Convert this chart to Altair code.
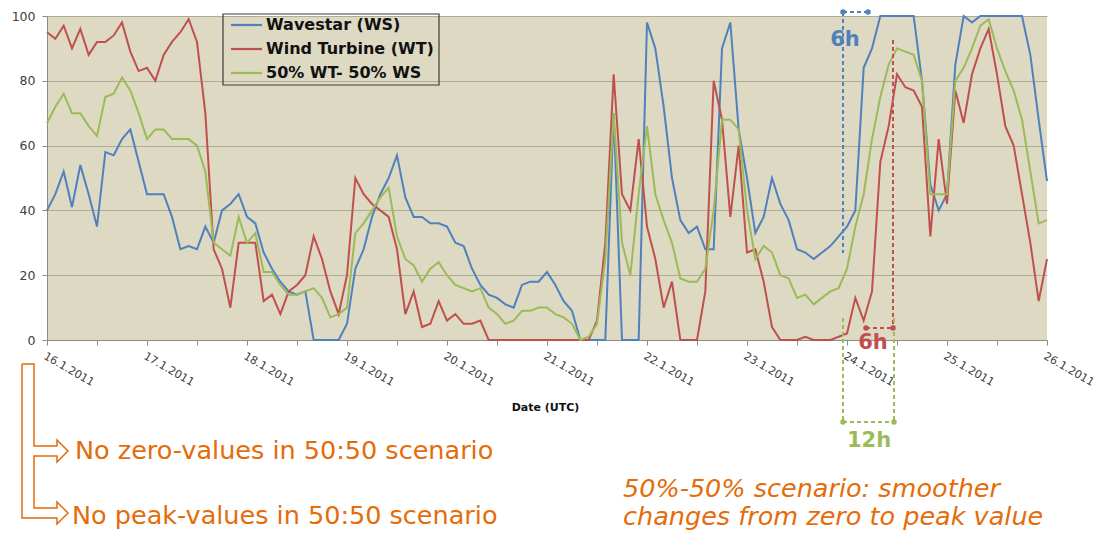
import altair as alt
import pandas as pd

# ---------------- data (2-hourly readings, 16.1.2011 00:00 .. 26.1.2011 00:00) ----------------
hours = list(range(0, 241, 2))

wavestar = [40, 45, 52, 41, 54, 45, 35, 58, 57, 62, 65, 55, 45, 45, 45, 38, 28, 29, 28, 35,
            30, 40, 42, 45, 38, 36, 27, 22, 18, 15, 14, 15, 0, 0, 0, 0, 5, 22, 28, 38,
            45, 50, 57, 44, 38, 38, 36, 36, 35, 30, 29, 22, 17, 14, 13, 11, 10, 17, 18, 18,
            21, 17, 12, 9, 0, 0, 0, 0, 70, 0, 0, 0, 98, 90, 72, 50, 37, 33, 35, 28,
            28, 90, 98, 65, 50, 33, 38, 50, 42, 37, 28, 27, 25, 27, 29, 32, 35, 40, 84, 90,
            100, 100, 100, 100, 100, 80, 48, 40, 45, 85, 100, 98, 100, 100, 100, 100, 100, 100, 88, 68,
            49]

wind = [95, 93, 97, 90, 96, 88, 92, 92, 94, 98, 89, 83, 84, 80, 88, 92, 95, 99, 92, 70,
        28, 22, 10, 30, 30, 30, 12, 14, 8, 15, 17, 20, 32, 25, 15, 8, 20, 50, 45, 42,
        40, 38, 28, 8, 15, 4, 5, 12, 6, 8, 5, 5, 6, 0, 0, 0, 0, 0, 0, 0,
        0, 0, 0, 0, 0, 0, 6, 30, 82, 45, 40, 62, 35, 25, 10, 18, 0, 0, 0, 15,
        80, 68, 38, 60, 27, 28, 18, 4, 0, 0, 0, 1, 0, 0, 0, 1, 2, 13, 6, 15,
        55, 66, 82, 78, 77, 72, 32, 62, 42, 77, 67, 82, 90, 96, 82, 66, 60, 45, 30, 12,
        25]

mix = [67, 72, 76, 70, 70, 66, 63, 75, 76, 81, 77, 70, 62, 65, 65, 62, 62, 62, 60, 52,
       30, 28, 26, 38, 30, 33, 21, 21, 17, 14, 14, 15, 16, 13, 7, 8, 10, 33, 36, 40,
       44, 47, 32, 25, 23, 18, 22, 24, 20, 17, 16, 15, 16, 10, 8, 5, 6, 9, 9, 10,
       10, 8, 7, 5, 0, 1, 5, 25, 70, 30, 20, 45, 66, 45, 37, 30, 19, 18, 18, 22,
       40, 68, 68, 65, 40, 25, 29, 27, 20, 19, 13, 14, 11, 13, 15, 16, 22, 35, 45, 62,
       75, 85, 90, 89, 88, 80, 45, 45, 45, 80, 84, 90, 97, 99, 90, 83, 77, 68, 52, 36,
       37]

day_labels = ["16.1.2011", "17.1.2011", "18.1.2011", "19.1.2011", "20.1.2011", "21.1.2011",
              "22.1.2011", "23.1.2011", "24.1.2011", "25.1.2011", "26.1.2011"]
series_names = ["Wavestar (WS)", "Wind Turbine (WT)", "50% WT- 50% WS"]
series_colors = ["#4F81BD", "#C0504D", "#9BBB59"]

rows = []
for name, vals in zip(series_names, [wavestar, wind, mix]):
    for h, v in zip(hours, vals):
        rows.append({"hour": h, "value": v, "series": name})
df = pd.DataFrame(rows)

# ---------------- layout helpers (annotation placement, in data units) ----------------
PLOT_W, PLOT_H = 1000, 324
X0, Y0 = 47, 16  # plot origin on the page


def hx(px):
    return (px - X0) * 240 / PLOT_W


def vy(py):
    return (Y0 + PLOT_H - py) * 100 / PLOT_H


x_scale = alt.Scale(domain=[0, 240], nice=False, zero=False)
y_scale = alt.Scale(domain=[0, 100], nice=False, zero=True)

label_expr = "datum.value % 24 == 0 ? " + str(day_labels) + "[datum.value / 24] : ''"

FONT = "DejaVu Sans"

lines = alt.Chart(df).mark_line(strokeWidth=2).encode(
    x=alt.X("hour:Q", scale=x_scale,
            axis=alt.Axis(values=list(range(0, 241, 6)), labelExpr=label_expr,
                          labelAngle=30, labelAlign="left", labelBaseline="top",
                          labelFont=FONT, labelFontSize=11, labelColor="#404040",
                          labelPadding=5, labelOverlap=False, labelFlush=False,
                          tickSize=5, tickColor="#8c8c8c", domainColor="#8c8c8c",
                          grid=False, title="Date (UTC)", titleFont=FONT,
                          titleFontSize=11, titleFontWeight="bold", titleColor="#111",
                          titleX=498, titleY=67, titleBaseline="middle")),
    y=alt.Y("value:Q", scale=y_scale,
            axis=alt.Axis(values=list(range(0, 101, 10)), grid=True, gridColor="#aeab97",
                          gridWidth=1, labelFont=FONT, labelFontSize=12.5,
                          labelColor="#404040", labelPadding=7, tickSize=5,
                          tickColor="#8c8c8c", domainColor="#8c8c8c", title=None)),
    color=alt.Color("series:N", scale=alt.Scale(domain=series_names, range=series_colors),
                    legend=None),
)

# ---------------- legend box (drawn from the series lists) ----------------
leg_y = [25, 49, 73]
legend_df = pd.DataFrame({
    "series": series_names,
    "x": [hx(231)] * 3, "x2": [hx(262)] * 3,
    "tx": [hx(266)] * 3,
    "y": [vy(p) for p in leg_y],
})
legend_box = alt.Chart(pd.DataFrame([{"x": hx(223), "x2": hx(439), "y": vy(14), "y2": vy(85)}])
                       ).mark_rect(fillOpacity=0, stroke="#3a3a3a", strokeWidth=1.2).encode(
    x=alt.X("x:Q", scale=x_scale), x2="x2:Q", y=alt.Y("y:Q", scale=y_scale), y2="y2:Q")
legend_sym = alt.Chart(legend_df).mark_rule(strokeWidth=2.2).encode(
    x=alt.X("x:Q", scale=x_scale), x2="x2:Q", y=alt.Y("y:Q", scale=y_scale),
    color=alt.Color("series:N", scale=alt.Scale(domain=series_names, range=series_colors),
                    legend=None))
legend_txt = alt.Chart(legend_df).mark_text(font=FONT, fontSize=16, fontWeight="bold",
                                            align="left", baseline="middle", color="#111").encode(
    x=alt.X("tx:Q", scale=x_scale), y=alt.Y("y:Q", scale=y_scale), text="series:N")

# ---------------- annotation: dashed interval markers ----------------
ann_rules = pd.DataFrame([
    # blue 6h
    {"x": hx(843), "x2": hx(843), "y": vy(12), "y2": vy(253), "c": "#4F81BD"},
    {"x": hx(843), "x2": hx(868), "y": vy(12), "y2": vy(12), "c": "#4F81BD"},
    # red 6h
    {"x": hx(893), "x2": hx(893), "y": vy(40), "y2": vy(328), "c": "#C0504D"},
    {"x": hx(866), "x2": hx(893), "y": vy(328), "y2": vy(328), "c": "#C0504D"},
    # green 12h
    {"x": hx(843), "x2": hx(843), "y": vy(318), "y2": vy(422), "c": "#9BBB59"},
    {"x": hx(894), "x2": hx(894), "y": vy(318), "y2": vy(422), "c": "#9BBB59"},
    {"x": hx(843), "x2": hx(894), "y": vy(422), "y2": vy(422), "c": "#9BBB59"},
])
rules = alt.Chart(ann_rules).mark_rule(strokeDash=[4, 3], strokeWidth=2).encode(
    x=alt.X("x:Q", scale=x_scale), x2="x2:Q",
    y=alt.Y("y:Q", scale=y_scale), y2="y2:Q",
    color=alt.Color("c:N", scale=None),
)

ann_dots = pd.DataFrame([
    {"x": hx(843), "y": vy(12), "c": "#4F81BD"},
    {"x": hx(868), "y": vy(12), "c": "#4F81BD"},
    {"x": hx(866), "y": vy(328), "c": "#C0504D"},
    {"x": hx(893), "y": vy(328), "c": "#C0504D"},
    {"x": hx(843), "y": vy(422), "c": "#9BBB59"},
    {"x": hx(894), "y": vy(422), "c": "#9BBB59"},
])
dots = alt.Chart(ann_dots).mark_point(filled=True, size=30, opacity=1).encode(
    x=alt.X("x:Q", scale=x_scale), y=alt.Y("y:Q", scale=y_scale),
    color=alt.Color("c:N", scale=None),
)

ann_labels = pd.DataFrame([
    {"x": hx(845), "y": vy(40), "t": "6h", "c": "#4F81BD"},
    {"x": hx(873), "y": vy(343), "t": "6h", "c": "#C0504D"},
    {"x": hx(869), "y": vy(441), "t": "12h", "c": "#9BBB59"},
])
hour_labels = alt.Chart(ann_labels).mark_text(font=FONT, fontSize=21, fontWeight="bold",
                                              align="center", baseline="middle").encode(
    x=alt.X("x:Q", scale=x_scale), y=alt.Y("y:Q", scale=y_scale),
    text="t:N", color=alt.Color("c:N", scale=None),
)

# ---------------- orange bracket and comments ----------------
ORANGE = "#E46C0A"
bracket_px = [(22, 364), (34, 364), (34, 446), (57, 446), (57, 440), (68, 451), (57, 462),
              (57, 456), (34, 456), (34, 508), (57, 508), (57, 502), (68, 513), (57, 524),
              (57, 518), (22, 518), (22, 364)]
bracket = pd.DataFrame([{"o": i, "x": hx(px), "y": vy(py)} for i, (px, py) in enumerate(bracket_px)])
bracket_line = alt.Chart(bracket).mark_line(color=ORANGE, strokeWidth=1.5).encode(
    x=alt.X("x:Q", scale=x_scale), y=alt.Y("y:Q", scale=y_scale), order="o:Q",
)

comments = pd.DataFrame([
    {"x": hx(75), "y": vy(451), "t": "No zero-values in 50:50 scenario", "s": "normal"},
    {"x": hx(72), "y": vy(516), "t": "No peak-values in 50:50 scenario", "s": "normal"},
    {"x": hx(623), "y": vy(489), "t": "50%-50% scenario: smoother", "s": "italic"},
    {"x": hx(623), "y": vy(517), "t": "changes from zero to peak value", "s": "italic"},
])
comment_normal = alt.Chart(comments[comments.s == "normal"]).mark_text(
    font=FONT, fontSize=25.5, align="left", baseline="middle", color=ORANGE).encode(
    x=alt.X("x:Q", scale=x_scale), y=alt.Y("y:Q", scale=y_scale), text="t:N")
comment_italic = alt.Chart(comments[comments.s == "italic"]).mark_text(
    font=FONT, fontSize=25.5, fontStyle="italic", align="left", baseline="middle",
    color=ORANGE).encode(
    x=alt.X("x:Q", scale=x_scale), y=alt.Y("y:Q", scale=y_scale), text="t:N")

chart = alt.layer(lines, rules, dots, hour_labels, legend_box, legend_sym, legend_txt,
                  bracket_line, comment_normal, comment_italic).properties(
    width=PLOT_W, height=PLOT_H,
    autosize=alt.AutoSizeParams(type="none"),
    padding={"left": 39, "top": 8, "right": 50, "bottom": 190},
    background="white",
).configure_view(fill="#DDD9C3", stroke=None)

chart.save("out.html", embed_options={"renderer": "svg", "actions": False})
